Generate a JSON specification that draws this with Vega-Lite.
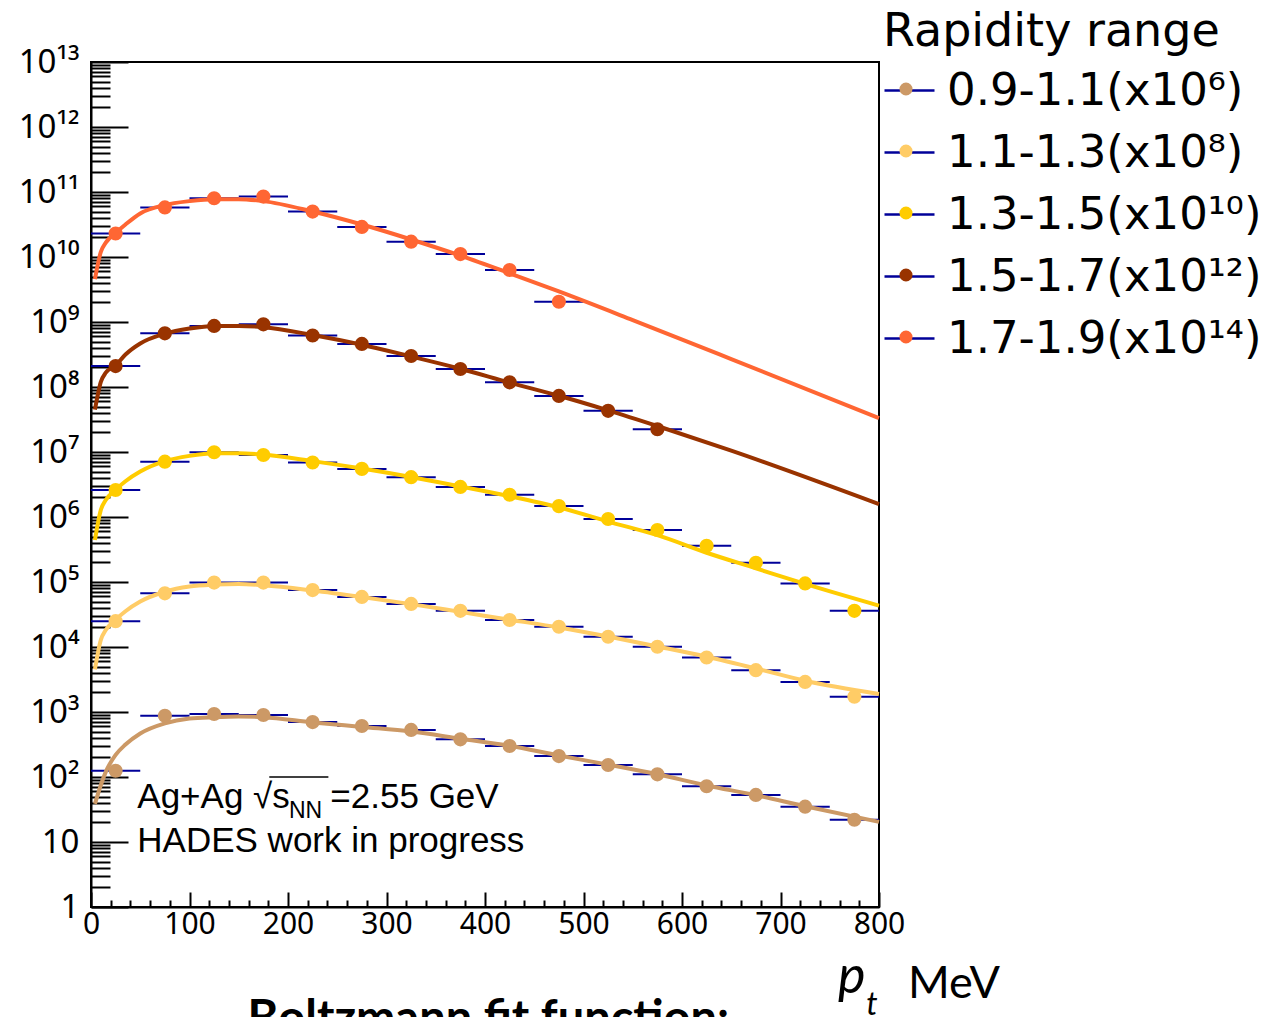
{
  "$schema": "https://vega.github.io/schema/vega-lite/v6.json",
  "width": 788,
  "height": 845,
  "autosize": {"type": "none"},
  "padding": {"left": 91, "top": 62, "right": 388, "bottom": 110},
  "background": "white",
  "config": {
    "view": {"stroke": "black", "strokeWidth": 2},
    "axis": {"grid": false, "domainColor": "black", "domainWidth": 2, "tickColor": "black", "tickWidth": 2, "labelColor": "black", "labelFont": "Noto Sans", "labelOverlap": false, "labelBound": false, "labelFlush": false}
  },
  "datasets": {
    "pts": [
      {"s": "0.9-1.1(x10⁶)", "pt": 25, "lo": 0, "hi": 50, "v": 125},
      {"s": "0.9-1.1(x10⁶)", "pt": 75, "lo": 50, "hi": 100, "v": 877},
      {"s": "0.9-1.1(x10⁶)", "pt": 125, "lo": 100, "hi": 150, "v": 930},
      {"s": "0.9-1.1(x10⁶)", "pt": 175, "lo": 150, "hi": 200, "v": 900},
      {"s": "0.9-1.1(x10⁶)", "pt": 225, "lo": 200, "hi": 250, "v": 700},
      {"s": "0.9-1.1(x10⁶)", "pt": 275, "lo": 250, "hi": 300, "v": 610},
      {"s": "0.9-1.1(x10⁶)", "pt": 325, "lo": 300, "hi": 350, "v": 530},
      {"s": "0.9-1.1(x10⁶)", "pt": 375, "lo": 350, "hi": 400, "v": 380},
      {"s": "0.9-1.1(x10⁶)", "pt": 425, "lo": 400, "hi": 450, "v": 300},
      {"s": "0.9-1.1(x10⁶)", "pt": 475, "lo": 450, "hi": 500, "v": 210},
      {"s": "0.9-1.1(x10⁶)", "pt": 525, "lo": 500, "hi": 550, "v": 153},
      {"s": "0.9-1.1(x10⁶)", "pt": 575, "lo": 550, "hi": 600, "v": 110},
      {"s": "0.9-1.1(x10⁶)", "pt": 625, "lo": 600, "hi": 650, "v": 72},
      {"s": "0.9-1.1(x10⁶)", "pt": 675, "lo": 650, "hi": 700, "v": 53},
      {"s": "0.9-1.1(x10⁶)", "pt": 725, "lo": 700, "hi": 750, "v": 35},
      {"s": "0.9-1.1(x10⁶)", "pt": 775, "lo": 750, "hi": 800, "v": 22},
      {"s": "1.1-1.3(x10⁸)", "pt": 25, "lo": 0, "hi": 50, "v": 25000},
      {"s": "1.1-1.3(x10⁸)", "pt": 75, "lo": 50, "hi": 100, "v": 67000},
      {"s": "1.1-1.3(x10⁸)", "pt": 125, "lo": 100, "hi": 150, "v": 98000},
      {"s": "1.1-1.3(x10⁸)", "pt": 175, "lo": 150, "hi": 200, "v": 98000},
      {"s": "1.1-1.3(x10⁸)", "pt": 225, "lo": 200, "hi": 250, "v": 75000},
      {"s": "1.1-1.3(x10⁸)", "pt": 275, "lo": 250, "hi": 300, "v": 59000},
      {"s": "1.1-1.3(x10⁸)", "pt": 325, "lo": 300, "hi": 350, "v": 46000},
      {"s": "1.1-1.3(x10⁸)", "pt": 375, "lo": 350, "hi": 400, "v": 36000},
      {"s": "1.1-1.3(x10⁸)", "pt": 425, "lo": 400, "hi": 450, "v": 26000},
      {"s": "1.1-1.3(x10⁸)", "pt": 475, "lo": 450, "hi": 500, "v": 20500},
      {"s": "1.1-1.3(x10⁸)", "pt": 525, "lo": 500, "hi": 550, "v": 14400},
      {"s": "1.1-1.3(x10⁸)", "pt": 575, "lo": 550, "hi": 600, "v": 10100},
      {"s": "1.1-1.3(x10⁸)", "pt": 625, "lo": 600, "hi": 650, "v": 6900},
      {"s": "1.1-1.3(x10⁸)", "pt": 675, "lo": 650, "hi": 700, "v": 4400},
      {"s": "1.1-1.3(x10⁸)", "pt": 725, "lo": 700, "hi": 750, "v": 2900},
      {"s": "1.1-1.3(x10⁸)", "pt": 775, "lo": 750, "hi": 800, "v": 1720},
      {"s": "1.3-1.5(x10¹⁰)", "pt": 25, "lo": 0, "hi": 50, "v": 2600000},
      {"s": "1.3-1.5(x10¹⁰)", "pt": 75, "lo": 50, "hi": 100, "v": 7100000},
      {"s": "1.3-1.5(x10¹⁰)", "pt": 125, "lo": 100, "hi": 150, "v": 9900000},
      {"s": "1.3-1.5(x10¹⁰)", "pt": 175, "lo": 150, "hi": 200, "v": 9000000},
      {"s": "1.3-1.5(x10¹⁰)", "pt": 225, "lo": 200, "hi": 250, "v": 6900000},
      {"s": "1.3-1.5(x10¹⁰)", "pt": 275, "lo": 250, "hi": 300, "v": 5500000},
      {"s": "1.3-1.5(x10¹⁰)", "pt": 325, "lo": 300, "hi": 350, "v": 4100000},
      {"s": "1.3-1.5(x10¹⁰)", "pt": 375, "lo": 350, "hi": 400, "v": 2900000},
      {"s": "1.3-1.5(x10¹⁰)", "pt": 425, "lo": 400, "hi": 450, "v": 2200000},
      {"s": "1.3-1.5(x10¹⁰)", "pt": 475, "lo": 450, "hi": 500, "v": 1470000},
      {"s": "1.3-1.5(x10¹⁰)", "pt": 525, "lo": 500, "hi": 550, "v": 930000},
      {"s": "1.3-1.5(x10¹⁰)", "pt": 575, "lo": 550, "hi": 600, "v": 630000},
      {"s": "1.3-1.5(x10¹⁰)", "pt": 625, "lo": 600, "hi": 650, "v": 360000},
      {"s": "1.3-1.5(x10¹⁰)", "pt": 675, "lo": 650, "hi": 700, "v": 198000},
      {"s": "1.3-1.5(x10¹⁰)", "pt": 725, "lo": 700, "hi": 750, "v": 95000},
      {"s": "1.3-1.5(x10¹⁰)", "pt": 775, "lo": 750, "hi": 800, "v": 36000},
      {"s": "1.5-1.7(x10¹²)", "pt": 25, "lo": 0, "hi": 50, "v": 2.1e8},
      {"s": "1.5-1.7(x10¹²)", "pt": 75, "lo": 50, "hi": 100, "v": 6.7e8},
      {"s": "1.5-1.7(x10¹²)", "pt": 125, "lo": 100, "hi": 150, "v": 8.7e8},
      {"s": "1.5-1.7(x10¹²)", "pt": 175, "lo": 150, "hi": 200, "v": 9.2e8},
      {"s": "1.5-1.7(x10¹²)", "pt": 225, "lo": 200, "hi": 250, "v": 6.2e8},
      {"s": "1.5-1.7(x10¹²)", "pt": 275, "lo": 250, "hi": 300, "v": 4.6e8},
      {"s": "1.5-1.7(x10¹²)", "pt": 325, "lo": 300, "hi": 350, "v": 3.0e8},
      {"s": "1.5-1.7(x10¹²)", "pt": 375, "lo": 350, "hi": 400, "v": 1.89e8},
      {"s": "1.5-1.7(x10¹²)", "pt": 425, "lo": 400, "hi": 450, "v": 1.18e8},
      {"s": "1.5-1.7(x10¹²)", "pt": 475, "lo": 450, "hi": 500, "v": 7.3e7},
      {"s": "1.5-1.7(x10¹²)", "pt": 525, "lo": 500, "hi": 550, "v": 4.3e7},
      {"s": "1.5-1.7(x10¹²)", "pt": 575, "lo": 550, "hi": 600, "v": 2.24e7},
      {"s": "1.7-1.9(x10¹⁴)", "pt": 25, "lo": 0, "hi": 50, "v": 2.3e10},
      {"s": "1.7-1.9(x10¹⁴)", "pt": 75, "lo": 50, "hi": 100, "v": 5.8e10},
      {"s": "1.7-1.9(x10¹⁴)", "pt": 125, "lo": 100, "hi": 150, "v": 8.0e10},
      {"s": "1.7-1.9(x10¹⁴)", "pt": 175, "lo": 150, "hi": 200, "v": 8.5e10},
      {"s": "1.7-1.9(x10¹⁴)", "pt": 225, "lo": 200, "hi": 250, "v": 5.0e10},
      {"s": "1.7-1.9(x10¹⁴)", "pt": 275, "lo": 250, "hi": 300, "v": 2.9e10},
      {"s": "1.7-1.9(x10¹⁴)", "pt": 325, "lo": 300, "hi": 350, "v": 1.72e10},
      {"s": "1.7-1.9(x10¹⁴)", "pt": 375, "lo": 350, "hi": 400, "v": 1.11e10},
      {"s": "1.7-1.9(x10¹⁴)", "pt": 425, "lo": 400, "hi": 450, "v": 6.3e9},
      {"s": "1.7-1.9(x10¹⁴)", "pt": 475, "lo": 450, "hi": 500, "v": 2.05e9}
    ],
    "fit": [
      {"s": "0.9-1.1(x10⁶)", "pt": 4, "v": 38.5},
      {"s": "0.9-1.1(x10⁶)", "pt": 10, "v": 75.3},
      {"s": "0.9-1.1(x10⁶)", "pt": 15, "v": 120},
      {"s": "0.9-1.1(x10⁶)", "pt": 25, "v": 219},
      {"s": "0.9-1.1(x10⁶)", "pt": 35, "v": 316},
      {"s": "0.9-1.1(x10⁶)", "pt": 50, "v": 468},
      {"s": "0.9-1.1(x10⁶)", "pt": 75, "v": 670},
      {"s": "0.9-1.1(x10⁶)", "pt": 100, "v": 794},
      {"s": "0.9-1.1(x10⁶)", "pt": 125, "v": 832},
      {"s": "0.9-1.1(x10⁶)", "pt": 150, "v": 851},
      {"s": "0.9-1.1(x10⁶)", "pt": 175, "v": 832},
      {"s": "0.9-1.1(x10⁶)", "pt": 225, "v": 692},
      {"s": "0.9-1.1(x10⁶)", "pt": 275, "v": 589},
      {"s": "0.9-1.1(x10⁶)", "pt": 325, "v": 501},
      {"s": "0.9-1.1(x10⁶)", "pt": 375, "v": 389},
      {"s": "0.9-1.1(x10⁶)", "pt": 425, "v": 302},
      {"s": "0.9-1.1(x10⁶)", "pt": 475, "v": 214},
      {"s": "0.9-1.1(x10⁶)", "pt": 525, "v": 155},
      {"s": "0.9-1.1(x10⁶)", "pt": 575, "v": 110},
      {"s": "0.9-1.1(x10⁶)", "pt": 625, "v": 74.1},
      {"s": "0.9-1.1(x10⁶)", "pt": 675, "v": 52.5},
      {"s": "0.9-1.1(x10⁶)", "pt": 725, "v": 35.5},
      {"s": "0.9-1.1(x10⁶)", "pt": 800, "v": 20.4},
      {"s": "1.1-1.3(x10⁸)", "pt": 4, "v": 4540},
      {"s": "1.1-1.3(x10⁸)", "pt": 10, "v": 12900},
      {"s": "1.1-1.3(x10⁸)", "pt": 15, "v": 18200},
      {"s": "1.1-1.3(x10⁸)", "pt": 25, "v": 26300},
      {"s": "1.1-1.3(x10⁸)", "pt": 35, "v": 35500},
      {"s": "1.1-1.3(x10⁸)", "pt": 50, "v": 50100},
      {"s": "1.1-1.3(x10⁸)", "pt": 75, "v": 70800},
      {"s": "1.1-1.3(x10⁸)", "pt": 100, "v": 85100},
      {"s": "1.1-1.3(x10⁸)", "pt": 125, "v": 91200},
      {"s": "1.1-1.3(x10⁸)", "pt": 150, "v": 93300},
      {"s": "1.1-1.3(x10⁸)", "pt": 175, "v": 89100},
      {"s": "1.1-1.3(x10⁸)", "pt": 225, "v": 74100},
      {"s": "1.1-1.3(x10⁸)", "pt": 275, "v": 58900},
      {"s": "1.1-1.3(x10⁸)", "pt": 325, "v": 45700},
      {"s": "1.1-1.3(x10⁸)", "pt": 375, "v": 34700},
      {"s": "1.1-1.3(x10⁸)", "pt": 425, "v": 26300},
      {"s": "1.1-1.3(x10⁸)", "pt": 475, "v": 20000},
      {"s": "1.1-1.3(x10⁸)", "pt": 525, "v": 14500},
      {"s": "1.1-1.3(x10⁸)", "pt": 575, "v": 10200},
      {"s": "1.1-1.3(x10⁸)", "pt": 625, "v": 7080},
      {"s": "1.1-1.3(x10⁸)", "pt": 675, "v": 4680},
      {"s": "1.1-1.3(x10⁸)", "pt": 725, "v": 3020},
      {"s": "1.1-1.3(x10⁸)", "pt": 800, "v": 1890},
      {"s": "1.3-1.5(x10¹⁰)", "pt": 4, "v": 443000},
      {"s": "1.3-1.5(x10¹⁰)", "pt": 10, "v": 1290000},
      {"s": "1.3-1.5(x10¹⁰)", "pt": 15, "v": 1820000},
      {"s": "1.3-1.5(x10¹⁰)", "pt": 25, "v": 2630000},
      {"s": "1.3-1.5(x10¹⁰)", "pt": 35, "v": 3550000},
      {"s": "1.3-1.5(x10¹⁰)", "pt": 50, "v": 5010000},
      {"s": "1.3-1.5(x10¹⁰)", "pt": 75, "v": 7240000},
      {"s": "1.3-1.5(x10¹⁰)", "pt": 100, "v": 8710000},
      {"s": "1.3-1.5(x10¹⁰)", "pt": 125, "v": 9550000},
      {"s": "1.3-1.5(x10¹⁰)", "pt": 150, "v": 9550000},
      {"s": "1.3-1.5(x10¹⁰)", "pt": 175, "v": 9120000},
      {"s": "1.3-1.5(x10¹⁰)", "pt": 225, "v": 7240000},
      {"s": "1.3-1.5(x10¹⁰)", "pt": 275, "v": 5560000},
      {"s": "1.3-1.5(x10¹⁰)", "pt": 325, "v": 4120000},
      {"s": "1.3-1.5(x10¹⁰)", "pt": 375, "v": 2950000},
      {"s": "1.3-1.5(x10¹⁰)", "pt": 425, "v": 2090000},
      {"s": "1.3-1.5(x10¹⁰)", "pt": 475, "v": 1410000},
      {"s": "1.3-1.5(x10¹⁰)", "pt": 525, "v": 851000},
      {"s": "1.3-1.5(x10¹⁰)", "pt": 575, "v": 525000},
      {"s": "1.3-1.5(x10¹⁰)", "pt": 625, "v": 282000},
      {"s": "1.3-1.5(x10¹⁰)", "pt": 675, "v": 162000},
      {"s": "1.3-1.5(x10¹⁰)", "pt": 725, "v": 93300},
      {"s": "1.3-1.5(x10¹⁰)", "pt": 800, "v": 43200},
      {"s": "1.5-1.7(x10¹²)", "pt": 4, "v": 4.47e7},
      {"s": "1.5-1.7(x10¹²)", "pt": 10, "v": 1.2e8},
      {"s": "1.5-1.7(x10¹²)", "pt": 15, "v": 1.66e8},
      {"s": "1.5-1.7(x10¹²)", "pt": 25, "v": 2.14e8},
      {"s": "1.5-1.7(x10¹²)", "pt": 35, "v": 3.16e8},
      {"s": "1.5-1.7(x10¹²)", "pt": 50, "v": 4.68e8},
      {"s": "1.5-1.7(x10¹²)", "pt": 75, "v": 6.61e8},
      {"s": "1.5-1.7(x10¹²)", "pt": 100, "v": 7.94e8},
      {"s": "1.5-1.7(x10¹²)", "pt": 125, "v": 8.71e8},
      {"s": "1.5-1.7(x10¹²)", "pt": 150, "v": 8.71e8},
      {"s": "1.5-1.7(x10¹²)", "pt": 175, "v": 8.32e8},
      {"s": "1.5-1.7(x10¹²)", "pt": 225, "v": 6.31e8},
      {"s": "1.5-1.7(x10¹²)", "pt": 275, "v": 4.47e8},
      {"s": "1.5-1.7(x10¹²)", "pt": 325, "v": 2.95e8},
      {"s": "1.5-1.7(x10¹²)", "pt": 375, "v": 1.91e8},
      {"s": "1.5-1.7(x10¹²)", "pt": 425, "v": 1.17e8},
      {"s": "1.5-1.7(x10¹²)", "pt": 475, "v": 7.33e7},
      {"s": "1.5-1.7(x10¹²)", "pt": 525, "v": 4.37e7},
      {"s": "1.5-1.7(x10¹²)", "pt": 575, "v": 2.51e7},
      {"s": "1.5-1.7(x10¹²)", "pt": 650, "v": 1.05e7},
      {"s": "1.5-1.7(x10¹²)", "pt": 800, "v": 1.58e6},
      {"s": "1.7-1.9(x10¹⁴)", "pt": 4, "v": 4.57e9},
      {"s": "1.7-1.9(x10¹⁴)", "pt": 10, "v": 1.2e10},
      {"s": "1.7-1.9(x10¹⁴)", "pt": 15, "v": 1.66e10},
      {"s": "1.7-1.9(x10¹⁴)", "pt": 25, "v": 2.34e10},
      {"s": "1.7-1.9(x10¹⁴)", "pt": 35, "v": 3.16e10},
      {"s": "1.7-1.9(x10¹⁴)", "pt": 50, "v": 4.68e10},
      {"s": "1.7-1.9(x10¹⁴)", "pt": 75, "v": 6.31e10},
      {"s": "1.7-1.9(x10¹⁴)", "pt": 100, "v": 7.24e10},
      {"s": "1.7-1.9(x10¹⁴)", "pt": 125, "v": 7.76e10},
      {"s": "1.7-1.9(x10¹⁴)", "pt": 150, "v": 7.76e10},
      {"s": "1.7-1.9(x10¹⁴)", "pt": 175, "v": 7.24e10},
      {"s": "1.7-1.9(x10¹⁴)", "pt": 225, "v": 5.01e10},
      {"s": "1.7-1.9(x10¹⁴)", "pt": 275, "v": 3.16e10},
      {"s": "1.7-1.9(x10¹⁴)", "pt": 325, "v": 1.86e10},
      {"s": "1.7-1.9(x10¹⁴)", "pt": 375, "v": 1.05e10},
      {"s": "1.7-1.9(x10¹⁴)", "pt": 425, "v": 5.62e9},
      {"s": "1.7-1.9(x10¹⁴)", "pt": 475, "v": 2.95e9},
      {"s": "1.7-1.9(x10¹⁴)", "pt": 550, "v": 1.07e9},
      {"s": "1.7-1.9(x10¹⁴)", "pt": 650, "v": 2.69e8},
      {"s": "1.7-1.9(x10¹⁴)", "pt": 800, "v": 3.31e7}
    ]
  },
  "layer": [
    {
      "data": {"name": "pts"},
      "mark": {"type": "rule", "strokeWidth": 2},
      "encoding": {
        "x": {"field": "lo", "type": "quantitative", "title": null,
          "scale": {"domain": [0, 800], "nice": false, "zero": false},
          "axis": {
            "values": [0,20,40,60,80,100,120,140,160,180,200,220,240,260,280,300,320,340,360,380,400,420,440,460,480,500,520,540,560,580,600,620,640,660,680,700,720,740,760,780,800],
            "tickCount": 1000,
            "labelExpr": "datum.value % 100 === 0 ? '' + datum.value : ''",
            "tickSize": {"condition": {"test": "datum.value % 100 === 0", "value": -15}, "value": -7},
            "labelFontSize": 30, "labelPadding": 17, "labelOverlap": false, "labelFlush": false
          }
        },
        "x2": {"field": "hi"},
        "y": {"field": "v", "type": "quantitative", "title": null,
          "scale": {"type": "log", "domain": [1, 1e13], "nice": false},
          "axis": {
            "values": [1,2,3,4,5,6,7,8,9,10,20,30,40,50,60,70,80,90,100,200,300,400,500,600,700,800,900,1000,2000,3000,4000,5000,6000,7000,8000,9000,1e4,2e4,3e4,4e4,5e4,6e4,7e4,8e4,9e4,1e5,2e5,3e5,4e5,5e5,6e5,7e5,8e5,9e5,1e6,2e6,3e6,4e6,5e6,6e6,7e6,8e6,9e6,1e7,2e7,3e7,4e7,5e7,6e7,7e7,8e7,9e7,1e8,2e8,3e8,4e8,5e8,6e8,7e8,8e8,9e8,1e9,2e9,3e9,4e9,5e9,6e9,7e9,8e9,9e9,1e10,2e10,3e10,4e10,5e10,6e10,7e10,8e10,9e10,1e11,2e11,3e11,4e11,5e11,6e11,7e11,8e11,9e11,1e12,2e12,3e12,4e12,5e12,6e12,7e12,8e12,9e12,1e13],
            "tickCount": 1000,
            "labelExpr": "abs(log(datum.value)/LN10 - round(log(datum.value)/LN10)) < 0.001 ? ['1','10','10²','10³','10⁴','10⁵','10⁶','10⁷','10⁸','10⁹','10¹⁰','10¹¹','10¹²','10¹³'][round(log(datum.value)/LN10)] : ''",
            "tickSize": {"condition": {"test": "abs(log(datum.value)/LN10 - round(log(datum.value)/LN10)) < 0.001", "value": -37}, "value": -19},
            "labelFontSize": 33, "labelPadding": 49, "labelOverlap": false
          }
        },
        "stroke": {"field": "s", "type": "nominal",
          "scale": {"domain": ["0.9-1.1(x10⁶)", "1.1-1.3(x10⁸)", "1.3-1.5(x10¹⁰)", "1.5-1.7(x10¹²)", "1.7-1.9(x10¹⁴)"], "range": ["#000099", "#000099", "#000099", "#000099", "#000099"]},
          "legend": {
            "orient": "none", "legendX": 792, "legendY": -52, "padding": 0,
            "title": "Rapidity range", "titleFont": "DejaVu Sans", "titleFontSize": 46, "titleFontWeight": "normal", "titleColor": "black", "titlePadding": 8, "titleLimit": 600,
            "labelFont": "DejaVu Sans", "labelFontSize": 45, "labelColor": "black", "labelOffset": 11, "labelLimit": 500,
            "symbolType": "M-1,0H1", "symbolSize": 2500, "symbolStrokeWidth": 2.5, "rowPadding": 12
          }
        }
      }
    },
    {
      "data": {"name": "fit"},
      "mark": {"type": "line", "strokeWidth": 4, "interpolate": "monotone"},
      "encoding": {
        "x": {"field": "pt", "type": "quantitative", "title": null},
        "y": {"field": "v", "type": "quantitative", "title": null},
        "color": {"field": "s", "type": "nominal", "scale": {"range": ["#CC9966", "#FFCC66", "#FFCC00", "#993300", "#FF6633"]}, "legend": null}
      }
    },
    {
      "data": {"name": "pts"},
      "mark": {"type": "circle", "size": 200, "opacity": 1},
      "encoding": {
        "x": {"field": "pt", "type": "quantitative", "title": null},
        "y": {"field": "v", "type": "quantitative", "title": null},
        "fill": {"field": "s", "type": "nominal", "scale": {"range": ["#CC9966", "#FFCC66", "#FFCC00", "#993300", "#FF6633"]},
          "legend": {
            "orient": "none", "legendX": 790, "legendY": -52, "padding": 0,
            "title": "Rapidity range", "titleFont": "DejaVu Sans", "titleFontSize": 46, "titleFontWeight": "normal", "titleColor": "rgba(0,0,0,0)", "titlePadding": 8, "titleLimit": 600,
            "labelFont": "DejaVu Sans", "labelFontSize": 50, "labelColor": "rgba(0,0,0,0)", "labelOffset": 11, "labelLimit": 500,
            "symbolType": "circle", "symbolSize": 170, "symbolStrokeWidth": 0, "symbolOpacity": 1, "rowPadding": 12
          }
        }
      }
    },
    {
      "data": {"values": [{}]},
      "mark": {"type": "text", "text": "Ag+Ag √s", "font": "Liberation Sans", "fontSize": 35, "align": "left", "baseline": "alphabetic", "color": "black"},
      "encoding": {"x": {"datum": 47}, "y": {"datum": 33.3}}
    },
    {
      "data": {"values": [{}]},
      "mark": {"type": "text", "text": "NN", "font": "Liberation Sans", "fontSize": 23, "align": "left", "baseline": "alphabetic", "color": "black"},
      "encoding": {"x": {"datum": 201}, "y": {"datum": 23.4}}
    },
    {
      "data": {"values": [{}]},
      "mark": {"type": "text", "text": "=2.55 GeV", "font": "Liberation Sans", "fontSize": 35, "align": "left", "baseline": "alphabetic", "color": "black"},
      "encoding": {"x": {"datum": 243}, "y": {"datum": 33.3}}
    },
    {
      "data": {"values": [{}]},
      "mark": {"type": "rule", "strokeWidth": 1.5, "color": "black"},
      "encoding": {"x": {"datum": 181}, "x2": {"datum": 241}, "y": {"datum": 100}}
    },
    {
      "data": {"values": [{}]},
      "mark": {"type": "text", "text": "HADES work in progress", "font": "Liberation Sans", "fontSize": 35, "align": "left", "baseline": "alphabetic", "color": "black"},
      "encoding": {"x": {"datum": 47}, "y": {"datum": 7.02}}
    },
    {
      "data": {"values": [{}]},
      "mark": {"type": "text", "text": "p", "font": "Lato", "fontStyle": "italic", "fontSize": 52, "align": "left", "baseline": "alphabetic", "color": "black"},
      "encoding": {"x": {"datum": 758.4}, "y": {"datum": 0.0475}}
    },
    {
      "data": {"values": [{}]},
      "mark": {"type": "text", "text": "t", "font": "Lato", "fontStyle": "italic", "fontSize": 32, "align": "left", "baseline": "alphabetic", "color": "black"},
      "encoding": {"x": {"datum": 787}, "y": {"datum": 0.0219}}
    },
    {
      "data": {"values": [{}]},
      "mark": {"type": "text", "text": "MeV", "font": "Lato", "fontSize": 45, "align": "left", "baseline": "alphabetic", "color": "black"},
      "encoding": {"x": {"datum": 829.4}, "y": {"datum": 0.0398}}
    },
    {
      "data": {"values": [{}]},
      "mark": {"type": "text", "text": "Boltzmann fit function:", "font": "Lato", "fontWeight": "bold", "fontSize": 47, "align": "left", "baseline": "alphabetic", "color": "black"},
      "encoding": {"x": {"datum": 159}, "y": {"datum": 0.0112}}
    }
  ]
}
